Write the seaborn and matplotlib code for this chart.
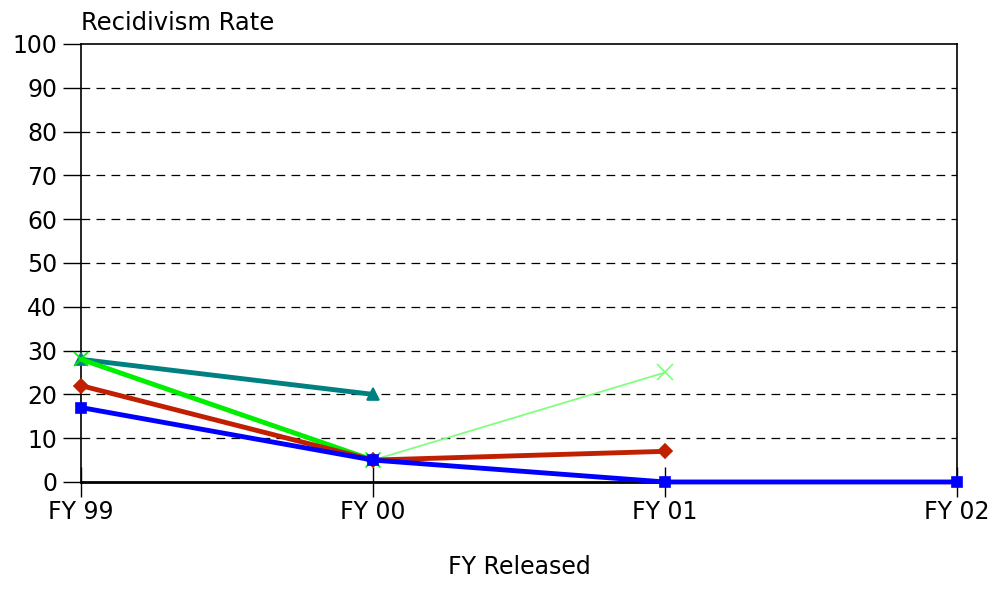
import matplotlib
matplotlib.use('Agg')
import matplotlib.pyplot as plt
import numpy as np
import pandas as pd
import seaborn as sns

# data
years = ['FY 99', 'FY 00', 'FY 01', 'FY 02']
teal_vals = [28, 20, np.nan, np.nan]
green_vals = [28, 5, np.nan, np.nan]
light_green_vals = [np.nan, 5, 25, np.nan]
red_vals = [22, 5, 7, np.nan]
blue_vals = [17, 5, 0, 0]

sns.set_style('white')
plt.rcParams['font.family'] = ['DejaVu Sans']
plt.rcParams['text.color'] = 'black'
plt.rcParams['xtick.color'] = 'black'
plt.rcParams['ytick.color'] = 'black'
plt.rcParams['axes.labelcolor'] = 'black'

fig = plt.figure(figsize=(9.97, 5.89), dpi=100)
ax = fig.add_axes([0.0812, 0.1817, 0.8788, 0.7436])

xpos = list(range(len(years)))

# gridlines
for y in range(10, 100, 10):
    ax.axhline(y, color='black', lw=0.9, ls=(0, (7, 5)), zorder=1)

# one line per series (drawn back to front)
series = [
    (light_green_vals, '#80FF80', 'x', 1.3, 11),
    (teal_vals, '#008080', '^', 3.5, 9),
    (green_vals, '#00EE00', 'x', 3.5, 10),
    (red_vals, '#C02000', 'D', 3.5, 7),
    (blue_vals, '#0000FF', 's', 3.5, 7),
]
for i, (vals, col, mk, lw, ms) in enumerate(series):
    df = pd.DataFrame({'x': xpos, 'y': vals}).dropna()
    sns.lineplot(data=df, x='x', y='y', color=col, lw=lw, marker=mk,
                 markersize=ms, markeredgecolor=col, markeredgewidth=1.2,
                 ax=ax, zorder=3 + i, clip_on=False)

ax.set_xlim(0, 3)
ax.set_ylim(0, 100)
ax.set_yticks(range(0, 101, 10))
ax.set_xticks(xpos)
ax.set_xticklabels(years)
ax.tick_params(axis='y', left=True, direction='out', length=13, width=1,
               labelsize=17, pad=4)
ax.tick_params(axis='x', bottom=True, direction='inout', length=22, width=1,
               labelsize=17, pad=2)
for s in ax.spines.values():
    s.set_color('black')
    s.set_linewidth(1.2)
ax.spines['bottom'].set_linewidth(2)

ax.set_ylabel('')
ax.set_xlabel('FY Released', fontsize=17, labelpad=22)
ax.text(0.0, 1.02, 'Recidivism Rate', transform=ax.transAxes, fontsize=17.5,
        ha='left', va='bottom')

fig.savefig('out.png', dpi=100)
